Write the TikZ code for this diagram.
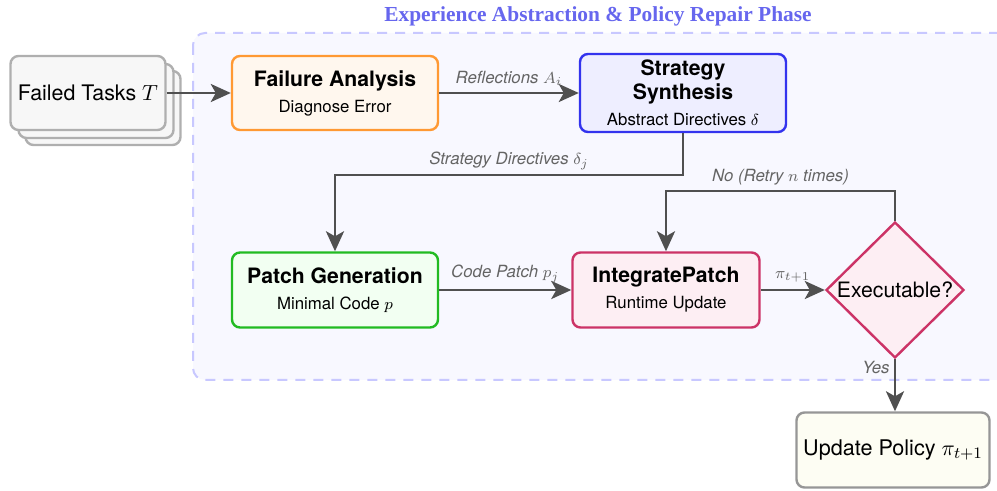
\documentclass[tikz,border=0pt]{standalone}
\usepackage{fontspec}
\setmainfont{TeX Gyre Heros}
\newfontfamily\titlefont{Liberation Serif}
\usetikzlibrary{shapes.geometric,arrows.meta}

\definecolor{flowgray}{RGB}{80,80,80}
\definecolor{lblgray}{RGB}{100,100,100}
\definecolor{phasefill}{RGB}{248,248,255}
\definecolor{phasedash}{RGB}{200,200,255}
\definecolor{phasetitle}{RGB}{102,102,238}
\definecolor{taskdraw}{RGB}{175,175,175}
\definecolor{taskfill}{RGB}{247,247,247}
\definecolor{failDraw}{RGB}{255,153,51}
\definecolor{failFill}{RGB}{255,247,238}
\definecolor{synthDraw}{RGB}{51,51,238}
\definecolor{synthFill}{RGB}{238,238,255}
\definecolor{patchDraw}{RGB}{34,187,34}
\definecolor{patchFill}{RGB}{242,255,242}
\definecolor{integDraw}{RGB}{204,51,102}
\definecolor{integFill}{RGB}{253,238,243}
\definecolor{updDraw}{RGB}{150,150,150}
\definecolor{updFill}{RGB}{253,253,243}

\tikzset{
  stagebox/.style={draw, rounded corners=4pt, line width=1.2pt, align=center,
    minimum width=103pt, minimum height=37pt, inner sep=2pt},
  taskbox/.style={stagebox, draw=taskdraw, fill=taskfill,
    minimum width=77.5pt, font=\fontsize{10.7}{12}\selectfont},
  flow/.style={draw=flowgray, line width=1.4pt,
    -{Stealth[length=10pt,width=9pt,inset=2.5pt]}},
  lbl/.style={text=lblgray, font=\fontsize{8.4}{10}\selectfont\itshape, inner sep=2pt}
}
\newcommand\stitle[1]{{\fontsize{10.6}{11.5}\selectfont\bfseries #1}}
\newcommand\ssub[1]{{\fontsize{8.4}{10}\selectfont #1}}

\begin{document}
\begin{tikzpicture}[scale=0.5]
  \useasboundingbox (0pt,0pt) rectangle (997pt,-491pt);

  %% phase area
  \draw[phasedash, fill=phasefill, dashed, line width=1pt, dash pattern=on 5pt off 4pt,
    rounded corners=6pt] (193pt,-33pt) rectangle (1010pt,-380pt);
  \node[text=phasetitle, font=\titlefont\fontsize{10.7}{12}\selectfont\bfseries]
    (phase) at (598pt,-16pt) {Experience Abstraction \& Policy Repair Phase};

  %% failed tasks (stacked)
  \node[taskbox] (tasksC) at (103pt,-108pt) {};
  \node[taskbox] (tasksB) at (96pt,-101pt) {};
  \node[taskbox] (tasks) at (88pt,-93pt) {Failed Tasks $T$};

  %% stages
  \node[stagebox, draw=failDraw, fill=failFill] (fail) at (335pt,-93pt)
    {\stitle{Failure Analysis}\\[1pt]\ssub{Diagnose Error}};
  \node[stagebox, draw=synthDraw, fill=synthFill, minimum height=39pt] (synth) at (683pt,-93pt)
    {\stitle{Strategy}\\\stitle{Synthesis}\\[1pt]\ssub{Abstract Directives $\delta$}};
  \node[stagebox, draw=patchDraw, fill=patchFill, minimum height=37.5pt] (patch) at (335pt,-290pt)
    {\stitle{Patch Generation}\\[1pt]\ssub{Minimal Code $p$}};
  \node[stagebox, draw=integDraw, fill=integFill, minimum width=93.5pt,
    minimum height=37.5pt] (integ) at (666pt,-290pt)
    {\stitle{IntegratePatch}\\[1pt]\ssub{Runtime Update}};
  \node[diamond, draw=integDraw, fill=integFill, line width=1.2pt, shape aspect=1,
    minimum width=69pt, minimum height=68pt, inner sep=0pt,
    font=\fontsize{10.6}{12}\selectfont] (exec) at (895pt,-290pt)
    {\makebox[0pt]{Executable?}};
  \node[stagebox, draw=updDraw, fill=updFill, minimum width=96.5pt, minimum height=37.5pt,
    font=\fontsize{10.8}{12}\selectfont] (update) at (893pt,-450pt) {Update Policy $\pi_{t+1}$};

  %% turning points
  \coordinate (turnS) at (0pt,-175pt);
  \coordinate (turnN) at (0pt,-191pt);

  %% connectors
  \draw[flow] (tasks) -- (fail);
  \draw[flow] (fail) -- node[lbl, above, yshift=1pt]{Reflections $A_i$} (synth);
  \draw[flow] (synth.south) -- (synth.south |- turnS)
    -- node[lbl, above]{Strategy Directives $\delta_j$} (patch.north |- turnS) -- (patch.north);
  \draw[flow] (patch) -- node[lbl, above, yshift=1pt]{Code Patch $p_j$} (integ);
  \draw[flow] (integ) -- node[lbl, above, yshift=1pt]{$\pi_{t+1}$} (exec);
  \draw[flow] (exec.north) -- (exec.north |- turnN)
    -- node[lbl, above]{No (Retry $n$ times)} (integ.north |- turnN) -- (integ.north);
  \draw[flow] (exec.south) -- node[lbl, left, pos=0.15]{Yes} (update.north -| exec.south);

\end{tikzpicture}
\end{document}
